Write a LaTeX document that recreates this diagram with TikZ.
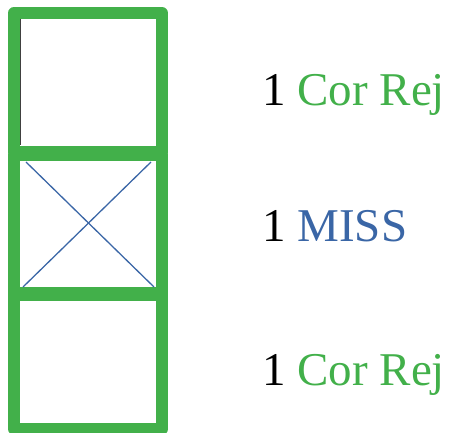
\documentclass[tikz,border=0pt]{standalone}
\usepackage{fontspec}
\setmainfont{Liberation Serif}
\definecolor{okgreen}{RGB}{66,176,74}
\definecolor{missblue}{RGB}{58,102,166}
\begin{document}
\begin{tikzpicture}[x=1pt,y=-1pt,
  cell/.style={draw=okgreen, line width=12pt, line join=round, inner sep=0pt,
    minimum width=148pt},
  tally/.style={anchor=base west, inner sep=0pt, font=\fontsize{47}{51}\selectfont}]
\useasboundingbox (0,0) rectangle (451,433);
% the three stacked cells
\node[cell, minimum height=139pt] (c1) at (88,82.5) {};
\node[cell, minimum height=138pt] (c2) at (88,224) {};
\node[cell, minimum height=134pt] (c3) at (88,362) {};
% thin edge line inside the top cell
\draw[black!75, line width=0.8pt] (20.5,19) -- (20.5,145);
% cross marking the missed cell
\coordinate (x1) at (26,162);
\coordinate (x2) at (151,162);
\coordinate (x3) at (23,287);
\coordinate (x4) at (154,287);
\draw[missblue, line width=1.3pt] (x1) -- (x4);
\draw[missblue, line width=1.3pt] (x2) -- (x3);
% counts and outcomes
\node[tally] (t1) at (262,106) {1 \textcolor{okgreen}{Cor Rej}};
\node[tally] (t2) at (262,242) {1 \textcolor{missblue}{MISS}};
\node[tally] (t3) at (262,386) {1 \textcolor{okgreen}{Cor Rej}};
\end{tikzpicture}
\end{document}
